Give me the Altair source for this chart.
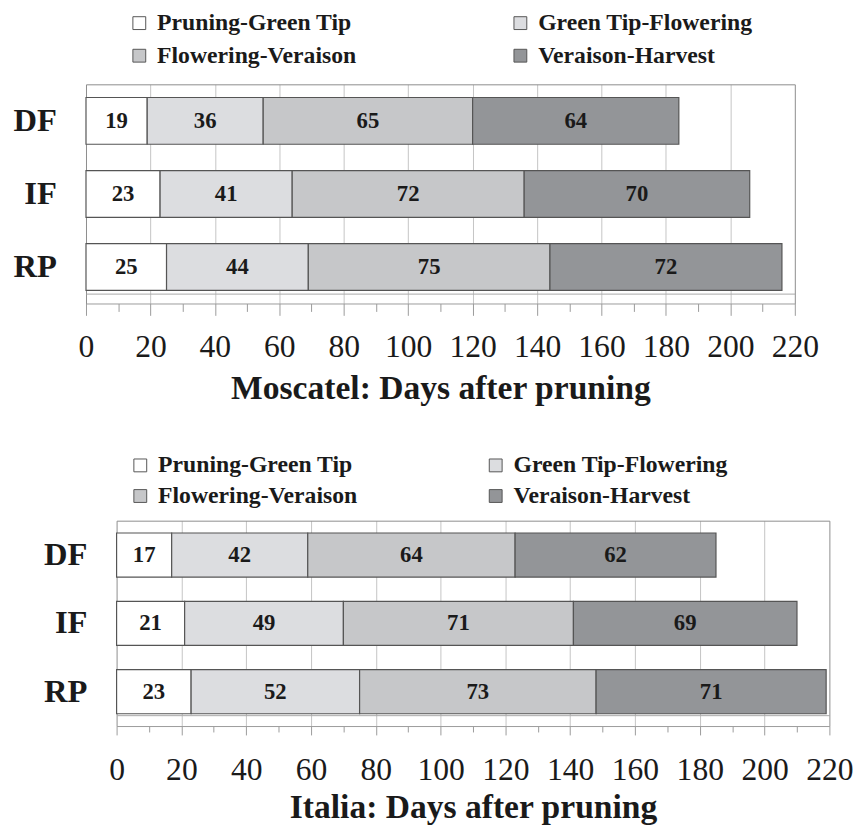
import altair as alt
import pandas as pd

treatments = ["DF", "IF", "RP"]
phases = ["Pruning-Green Tip", "Green Tip-Flowering", "Flowering-Veraison", "Veraison-Harvest"]
phase_colors = ["#ffffff", "#dcdde0", "#c6c7c9", "#939598"]

# Moscatel: days per phase for DF, IF, RP
mos_pruning_green_tip = [19, 23, 25]
mos_green_tip_flowering = [36, 41, 44]
mos_flowering_veraison = [65, 72, 75]
mos_veraison_harvest = [64, 70, 72]

# Italia: days per phase for DF, IF, RP
ita_pruning_green_tip = [17, 21, 23]
ita_green_tip_flowering = [42, 49, 52]
ita_flowering_veraison = [64, 71, 73]
ita_veraison_harvest = [62, 69, 71]

x_ticks = list(range(0, 221, 10))

FONT = "Liberation Serif"
FRAME = "#8c8c8c"


def build_df(series):
    rows = []
    for k, (phase, vals) in enumerate(zip(phases, series)):
        for t, v in zip(treatments, vals):
            rows.append({"treatment": t, "phase": phase, "order": k, "days": v})
    return pd.DataFrame(rows)


def panel(df, title, x_shift, plot_w, height, frame_off, major_tick, minor_tick,
          label_pad, legend_x, legend_y, legend_colpad, legend_rowpad, title_pad,
          pad_inner, pad_outer):
    base = alt.Chart(df).transform_stack(
        stack="days", groupby=["treatment"], as_=["x0", "x1"],
        sort=[alt.SortField("order", order="ascending")],
    ).transform_calculate(mid="(datum.x0 + datum.x1) / 2")

    xscale = alt.Scale(domain=[0, 220], range=[x_shift, x_shift + plot_w], nice=False, zero=True)
    yscale = alt.Scale(paddingInner=pad_inner, paddingOuter=pad_outer, align=0.5)

    main_axis = alt.Axis(
        orient="bottom", values=x_ticks,
        title=title,
        titleFont=FONT, titleFontSize=34, titleFontWeight="bold",
        titleColor="#1a1a1a", titlePadding=title_pad,
        labelFont=FONT, labelFontSize=32, labelColor="#1a1a1a",
        labelExpr="datum.value % 20 == 0 ? datum.label : ''",
        labelOverlap=False, labelFlush=False, labelPadding=label_pad,
        tickColor="#9a9a9a", tickWidth=1,
        tickSize={"condition": {"test": "datum.value % 20 != 0", "value": minor_tick}, "value": major_tick},
        gridWidth=1,
        gridColor={"condition": {"test": "datum.value == 0 || datum.value == 220", "value": FRAME}, "value": "#c4c4c4"},
        gridOpacity={"condition": {"test": "datum.value % 20 != 0", "value": 0}, "value": 1},
        domainColor="#9a9a9a", domainWidth=1,
    )
    top_axis = alt.Axis(
        orient="top", title=None, labels=False, ticks=False, grid=False,
        domain=True, domainColor=FRAME, domainWidth=1,
    )
    frame_axis = alt.Axis(
        orient="bottom", offset=frame_off, title=None, labels=False, ticks=False,
        grid=False, domain=True, domainColor="#a8a8a8", domainWidth=1,
    )
    yaxis = alt.Axis(
        title=None, ticks=False, domain=False, grid=False,
        labelFont=FONT, labelFontSize=33, labelFontWeight="bold",
        labelColor="#1a1a1a", labelPadding=30 - x_shift, minExtent=0,
    )

    bars = base.mark_bar(stroke="#555555", strokeWidth=1.2).encode(
        x=alt.X("x0:Q", scale=xscale, axis=main_axis, title=title),
        x2="x1:Q",
        y=alt.Y("treatment:N", sort=treatments, scale=yscale, axis=yaxis, title=None),
        color=alt.Color(
            "phase:N",
            scale=alt.Scale(domain=phases, range=phase_colors),
            legend=alt.Legend(
                title=None, orient="none", legendX=legend_x, legendY=legend_y,
                direction="horizontal", columns=2, columnPadding=legend_colpad,
                rowPadding=legend_rowpad, padding=0,
                symbolType="square", symbolSize=169, symbolStrokeColor="#555555",
                symbolStrokeWidth=1, labelOffset=6,
                labelFont=FONT, labelFontSize=24, labelFontWeight="bold",
                labelColor="#1a1a1a", labelLimit=400,
            ),
        ),
        order=alt.Order("order:Q"),
    )

    text = base.mark_text(
        font=FONT, fontSize=23, fontWeight="bold", color="#1a1a1a",
        align="center", baseline="middle",
    ).encode(
        x=alt.X("mid:Q", scale=xscale, axis=top_axis),
        y=alt.Y("treatment:N", sort=treatments, scale=yscale, axis=yaxis, title=None),
        text=alt.Text("days:Q"),
    )

    # invisible copy of the labels that only carries the plot-area bottom frame line
    frame = base.mark_text(opacity=0, fontSize=1).encode(
        x=alt.X("mid:Q", scale=xscale, axis=frame_axis),
        y=alt.Y("treatment:N", sort=treatments, scale=yscale, axis=yaxis, title=None),
        text=alt.Text("days:Q"),
    )

    return alt.layer(bars, text, frame).resolve_axis(x="independent").properties(
        width=x_shift + plot_w, height=height
    )


mos_df = build_df([mos_pruning_green_tip, mos_green_tip_flowering,
                   mos_flowering_veraison, mos_veraison_harvest])
ita_df = build_df([ita_pruning_green_tip, ita_green_tip_flowering,
                   ita_flowering_veraison, ita_veraison_harvest])

top = panel(mos_df, "Moscatel: Days after pruning", 0, 718, 222, -10, 12, 8, 17,
            42, -74, 154, 9, 9, 0.36, 0.18)
bottom = panel(ita_df, "Italia: Days after pruning", 31, 722, 208, -11, 9, 6, 20,
               43, -68, 128, 7, 6, 0.355, 0.18)

chart = alt.vconcat(top, bottom, spacing=47).resolve_scale(
    color="independent", x="independent", y="independent"
).resolve_legend(color="independent").properties(
    padding={"top": -3, "left": 4, "right": 5, "bottom": 0},
    background="white",
).configure_view(stroke="transparent")

chart.save("out.html", embed_options={"renderer": "svg", "actions": False})
